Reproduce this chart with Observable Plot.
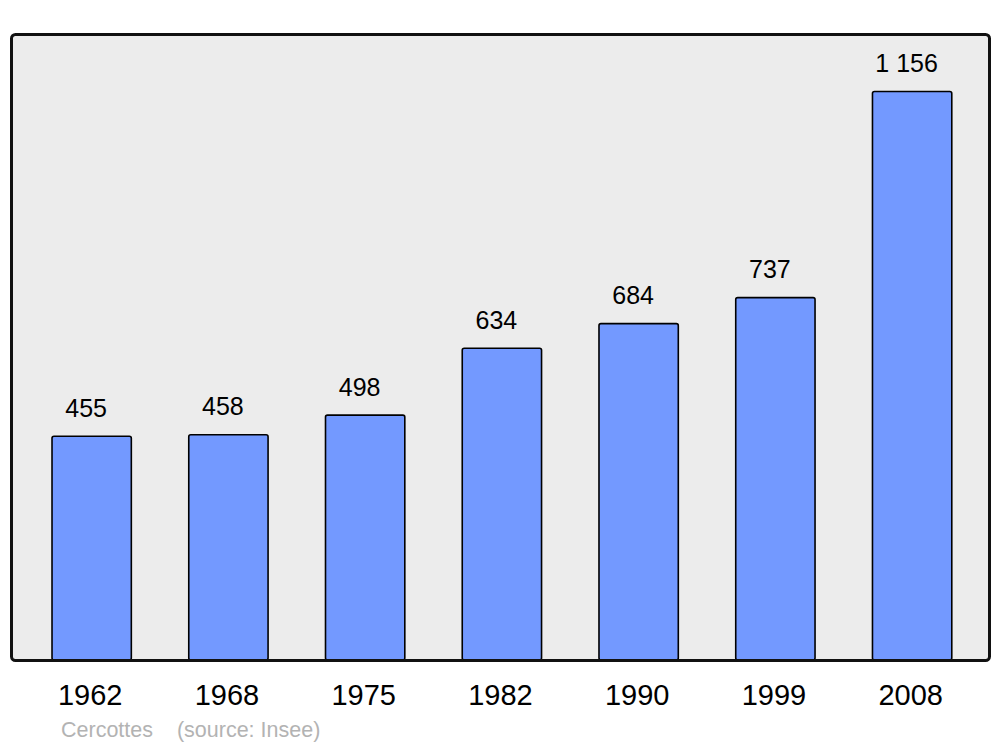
<!DOCTYPE html>
<html>
<head>
<meta charset="utf-8">
<script src="https://cdn.jsdelivr.net/npm/d3@7"></script>
<script src="https://cdn.jsdelivr.net/npm/@observablehq/plot@0.6"></script>
<style>
  body { margin: 0; background: #fff; font-family: "Liberation Sans", Arial, sans-serif; }
  #wrap { position: relative; width: 1000px; height: 747px; }
  #caption { position: absolute; left: 61px; top: 718px; font-size: 21.5px; color: #b3b3b3; white-space: pre; font-family: "Liberation Sans", Arial, sans-serif; }
</style>
</head>
<body>
<div id="wrap"><div id="chart"></div><div id="caption">Cercottes    (source: Insee)</div></div>
<script>
const years = ["1962", "1968", "1975", "1982", "1990", "1999", "2008"];
const population = [455, 458, 498, 634, 684, 737, 1156];
const valueLabels = ["455", "458", "498", "634", "684", "737", "1 156"];

const data = years.map((y, i) => ({year: y, pop: population[i], label: valueLabels[i]}));

const chart = Plot.plot({
  width: 1000,
  height: 710,
  marginLeft: 11,
  marginRight: 11,
  marginTop: 34,
  marginBottom: 50,
  style: {fontFamily: "Liberation Sans, Arial, sans-serif", background: "transparent"},
  x: {type: "band", domain: years, range: [23.3, 980.5], paddingInner: 0.42, paddingOuter: 0.21, round: false, label: null},
  y: {domain: [0, 1273], axis: null},
  marks: [
    Plot.frame({fill: "#ececec", stroke: "none", rx: 4}),
    Plot.barY(data, {x: "year", y: "pop", fill: "#7399ff", stroke: "#000", strokeWidth: 1.6, rx: 2}),
    Plot.text(data, {x: "year", y: "pop", text: "label", dy: -28, dx: -6, fontSize: 25, fill: "#000"}),
    Plot.frame({fill: "none", stroke: "#111", strokeWidth: 3, rx: 4}),
    Plot.axisX({tickSize: 0, tickPadding: 24, fontSize: 29, dx: -2, label: null, color: "#000"})
  ]
});
document.getElementById("chart").appendChild(chart);
</script>
</body>
</html>
